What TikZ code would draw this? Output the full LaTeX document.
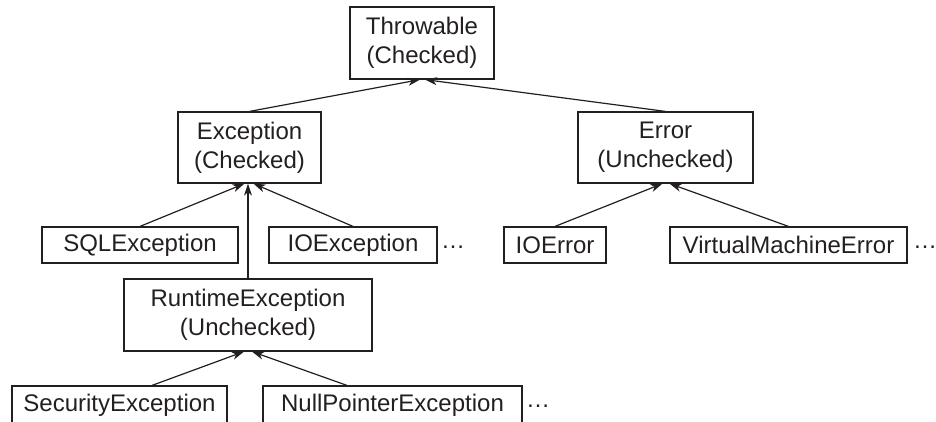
\documentclass[tikz,border=0pt]{standalone}
\usepackage{fontspec}
\setmainfont{Liberation Sans}
\usetikzlibrary{arrows.meta}
\definecolor{ink}{HTML}{231F20}
\begin{document}
\begin{tikzpicture}[x=1pt,y=-1pt,
  box/.style={draw=ink,line width=1.2pt,text=ink,inner sep=0pt,align=center,
    font=\fontsize{24}{29}\selectfont},
  dots/.style={text=ink,inner sep=0pt,font=\fontsize{24}{29}\selectfont},
  isa/.style={draw=ink,line width=1.2pt,-{Stealth[length=12pt,width=8pt,inset=3.5pt]}}]
\useasboundingbox (0,0) rectangle (936,421);
\clip (0,0) rectangle (936,421);
\node[box,minimum width=144pt,minimum height=72pt] (thr) at (422,43) {Throwable\\(Checked)};
\node[box,minimum width=143pt,minimum height=71pt] (exc) at (249.5,147.5) {Exception\\(Checked)};
\node[box,minimum width=175pt,minimum height=71pt] (err) at (665.5,147.5) {Error\\(Unchecked)};
\node[box,minimum width=196pt,minimum height=36pt] (sql) at (140,245) {SQLException};
\node[box,minimum width=168pt,minimum height=36pt] (ioe) at (353,245) {IOException};
\node[box,minimum width=102pt,minimum height=36pt] (ioerr) at (555,245) {IOError};
\node[box,minimum width=237pt,minimum height=36pt] (vme) at (788.5,245) {VirtualMachineError};
\node[box,minimum width=248pt,minimum height=72pt] (rte) at (248,315) {RuntimeException\\(Unchecked)};
\node[box,minimum width=215pt,minimum height=38pt] (sec) at (119.5,405) {SecurityException};
\node[box,minimum width=259pt,minimum height=38pt] (npe) at (392.5,405) {NullPointerException};
\node[dots] (d1) at (453,247) {…};
\node[dots] (d2) at (925,247) {…};
\node[dots] (d3) at (538,406) {…};
\draw[isa] (exc.north) -- ([xshift=-2pt]thr.south);
\draw[isa] (err.north) -- ([xshift=3pt]thr.south);
\draw[isa] (sql.north) -- ([xshift=-5pt]exc.south);
\draw[isa] (rte.north) -- (rte.north |- exc.south);
\draw[isa] (ioe.north) -- ([xshift=4pt]exc.south);
\draw[isa] (ioerr.north) -- ([xshift=-3pt]err.south);
\draw[isa] (vme.north) -- ([xshift=4pt]err.south);
\draw[isa] ([xshift=32.5pt]sec.north) -- ([xshift=-4pt]rte.south);
\draw[isa] ([xshift=-45.5pt]npe.north) -- ([xshift=4pt]rte.south);
\end{tikzpicture}
\end{document}
